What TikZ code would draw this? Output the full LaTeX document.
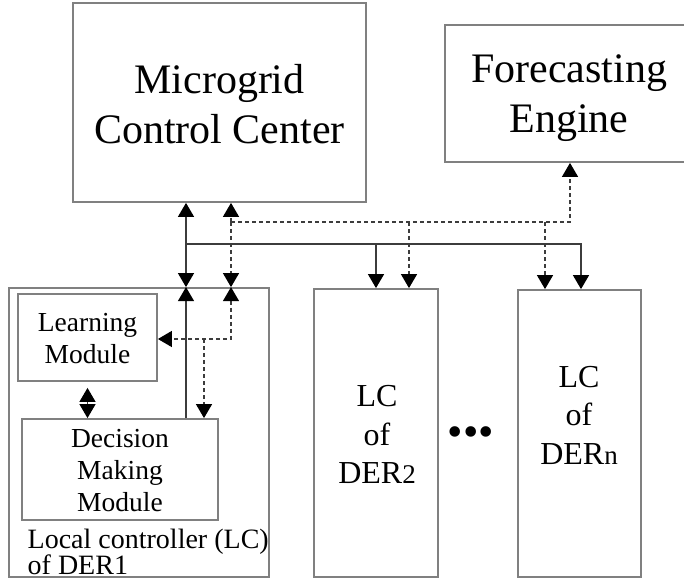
\documentclass[tikz,border=0pt]{standalone}
\usepackage{fontspec}
\setmainfont{Liberation Serif}
\usetikzlibrary{arrows.meta}
\definecolor{boxgray}{RGB}{128,128,128}
\definecolor{linegray}{RGB}{60,60,60}
\begin{document}
\begin{tikzpicture}[x=1pt,y=-1pt,
  tipend/.style={-{Triangle[width=16pt,length=14pt,color=black]}},
  tipboth/.style={{Triangle[width=16pt,length=14pt,color=black]}-{Triangle[width=16pt,length=14pt,color=black]}},
  box/.style={draw=boxgray, line width=1.8pt, inner sep=0pt, fill=none},
  conn/.style={draw=linegray, line width=1.3pt},
  dconn/.style={conn, dash pattern=on 4pt off 3pt},
  bigtxt/.style={font=\fontsize{42}{50}\selectfont, align=center, inner sep=0pt},
  midtxt/.style={font=\fontsize{27.5}{32}\selectfont, align=center, inner sep=0pt},
  lctxt/.style={font=\fontsize{32}{38.5}\selectfont, align=center, inner sep=0pt},
  captxt/.style={font=\fontsize{28}{28}\selectfont, inner sep=0pt}]
\useasboundingbox (0,0) rectangle (684,581);
\clip (0,0) rectangle (684,581);

% boxes
\node[box, minimum width=293pt, minimum height=199pt] (mcc) at (219.5,102.5) {};
\node[box, minimum width=255pt, minimum height=137pt] (fe) at (572.5,93.5) {};
\node[box, minimum width=260pt, minimum height=289pt] (lc1) at (139,432.5) {};
\node[box, minimum width=139pt, minimum height=87pt] (lm) at (87.5,337.5) {};
\node[box, minimum width=196pt, minimum height=101pt] (dm) at (120,469.5) {};
\node[box, minimum width=124pt, minimum height=288pt] (lc2) at (376,433) {};
\node[box, minimum width=123pt, minimum height=287pt] (lcn) at (579.5,433.5) {};

% texts
\node[bigtxt] (mcct) at (219.5,103.9) {Microgrid\\Control Center};
\node[bigtxt] (fet) at (569,98.5) {Forecasting\\Engine};
\node[midtxt] (lmt) at (87.5,338.6) {Learning\\Module};
\node[midtxt] (dmt) at (120,470.2) {Decision\\Making\\Module};
\node[lctxt] (lc2t) at (377,434.7) {LC\\of\\DER{\fontsize{27}{27}\selectfont 2}};
\node[lctxt] (lcnt) at (579,415.2) {LC\\of\\DER{\fontsize{27}{27}\selectfont n}};
\node[captxt, anchor=base west] (cap1) at (27.5,548) {Local controller (LC)};
\node[captxt, anchor=base west] (cap2) at (27.5,574) {of DER1};
\node[font=\fontsize{44}{44}\selectfont, inner sep=0pt, anchor=base] (dots) at (471,446) {•••};

% coordinates
\coordinate (b1) at (186,244);
\coordinate (b2) at (376,244);
\coordinate (b3) at (581,244);
\coordinate (d1) at (231,222);
\coordinate (d2) at (409,222);
\coordinate (d3) at (545,222);
\coordinate (d4) at (570,222);
\coordinate (e1) at (231,339);
\coordinate (e2) at (204,339);

% solid connectors
\draw[conn,tipend] (b1) -- (b1 |- mcc.south);
\draw[conn,tipend] (b1) -- (b1 |- lc1.north);
\draw[conn,tipend] (b1) -- (b3) -- (b3 |- lcn.north);
\draw[conn,tipend] (b2) -- (b2 |- lc2.north);
\draw[conn,tipend] (b1 |- dm.north) -- (b1 |- lc1.north);
\draw[conn,tipboth, shorten <=6pt] (lm.south) -- (lm.south |- dm.north);

% dashed connectors
\draw[dconn,tipend] (d1) -- (d1 |- mcc.south);
\draw[dconn,tipend] (d1) -- (d1 |- lc1.north);
\draw[dconn,tipend] (d1) -- (d4) -- (d4 |- fe.south);
\draw[dconn,tipend] (d2) -- (d2 |- lc2.north);
\draw[dconn,tipend] (d3) -- (d3 |- lcn.north);
\draw[dconn,tipboth] (d1 |- lc1.north) -- (e1) -- (lm.east |- e1);
\draw[dconn,tipend] (e2) -- (e2 |- dm.north);
\end{tikzpicture}
\end{document}
